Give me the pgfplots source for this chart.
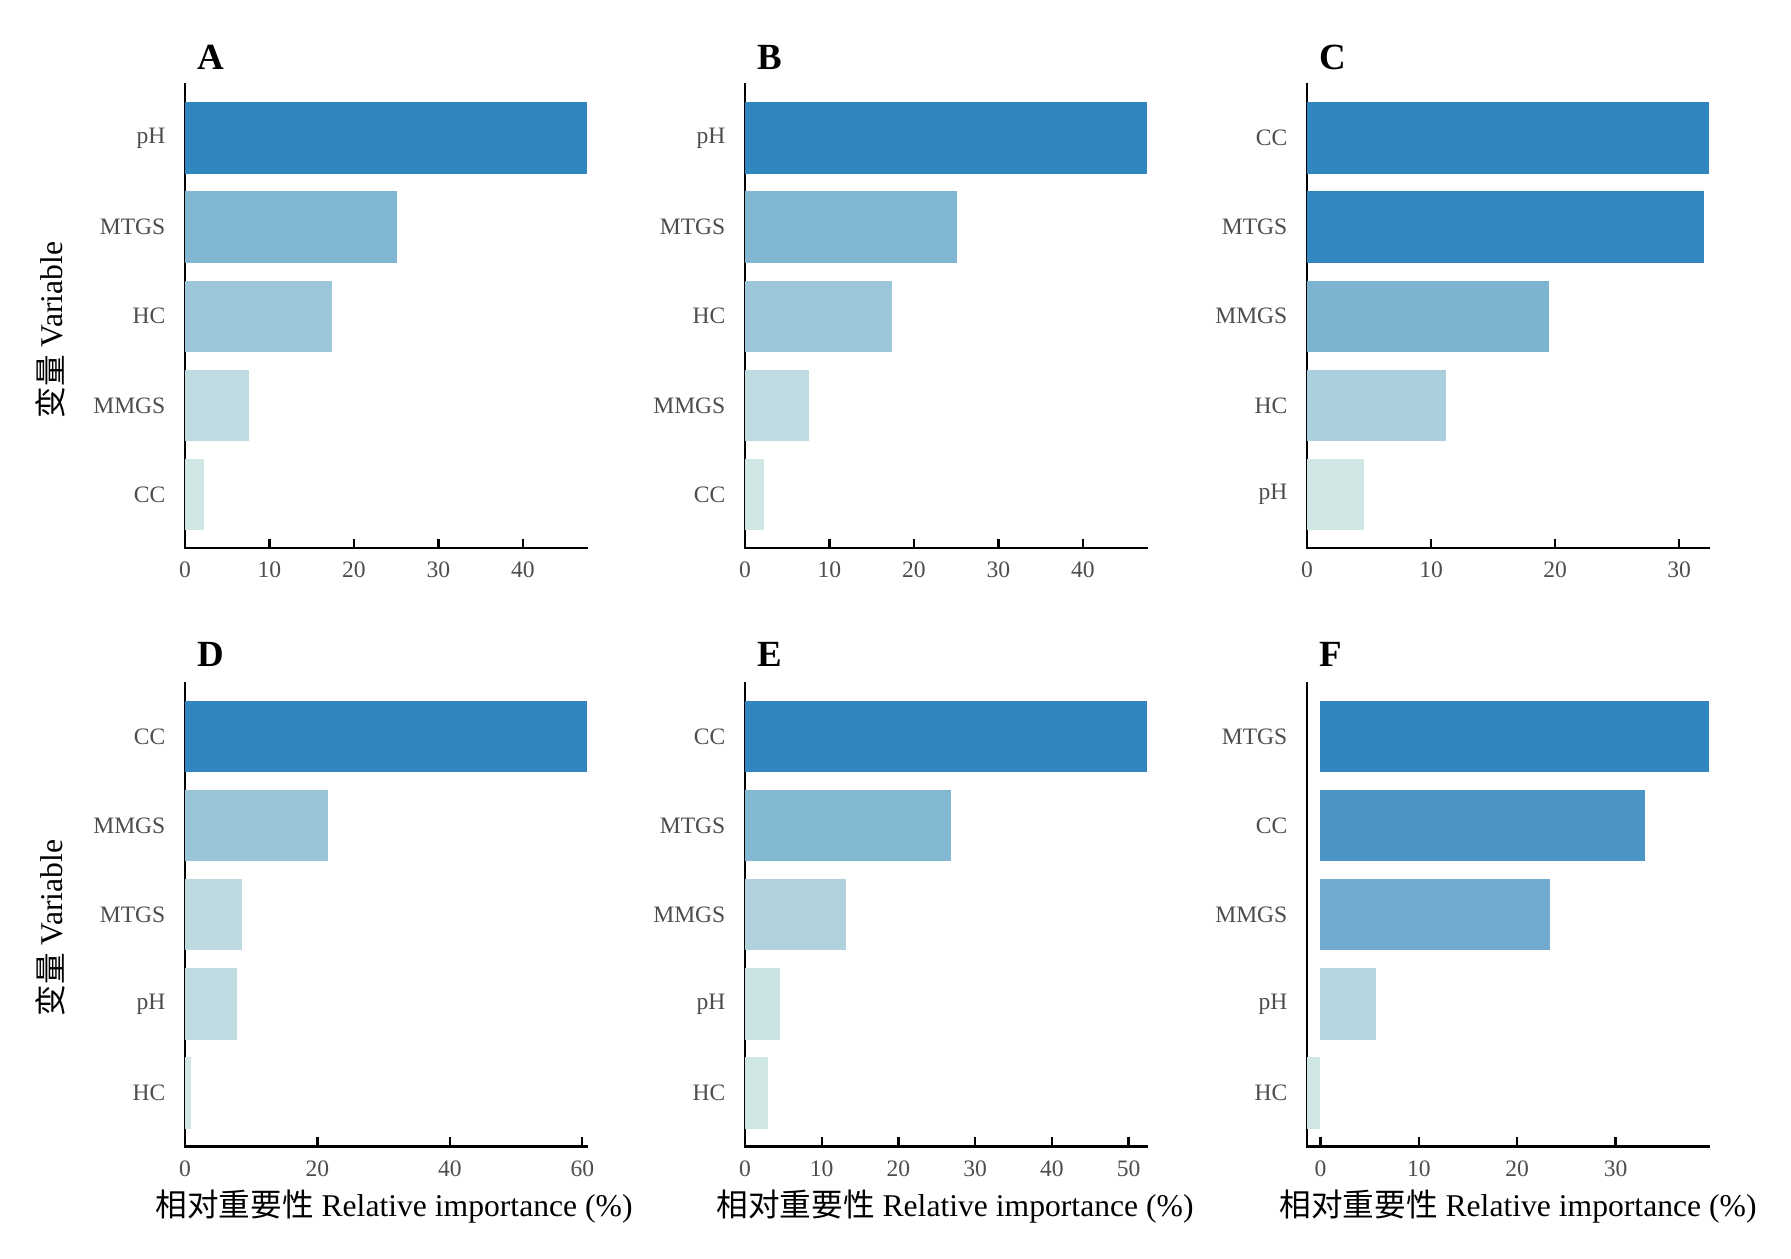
\documentclass[border=0pt]{standalone}
\usepackage{fontspec}
\setmainfont{Liberation Serif}
\newfontfamily\cjk{Noto Sans CJK SC}
\usepackage{pgfplots}
\pgfplotsset{compat=1.18}
\definecolor{tickgray}{HTML}{4D4D4D}
\definecolor{c100}{RGB}{50,134,192}
% A/B
\definecolor{abMTGS}{RGB}{129,182,210}
\definecolor{abHC}{RGB}{155,198,217}
\definecolor{abMMGS}{RGB}{190,219,225}
\definecolor{c000}{RGB}{208,230,229}
% C
\definecolor{cMTGS}{RGB}{52,135,193}
\definecolor{cMMGS}{RGB}{124,179,209}
\definecolor{cHC}{RGB}{171,207,220}
% D
\definecolor{dMMGS}{RGB}{153,197,216}
\definecolor{dMTGS}{RGB}{188,218,224}
\definecolor{dpH}{RGB}{190,219,225}
% E
\definecolor{eMTGS}{RGB}{131,184,211}
\definecolor{eMMGS}{RGB}{175,210,221}
\definecolor{epH}{RGB}{203,227,228}
% F
\definecolor{fCC}{RGB}{75,149,198}
\definecolor{fMMGS}{RGB}{113,172,207}
\definecolor{fpH}{RGB}{181,214,223}

\pgfplotsset{
  panel/.style={
    anchor=north west,
    scale only axis,
    width=40.2mm, height=46.35mm,
    axis x line*=bottom, axis y line*=left,
    axis line style={line width=0.65pt, black, line cap=rect},
    ymin=0.4, ymax=5.6, ytick={1,2,3,4,5},
    y tick style={draw=none},
    tick align=inside,
    major tick length=0.9mm,
    x tick style={black, line width=0.65pt},
    xbar, bar width=0.8, bar shift=0pt,
    every axis plot/.append style={draw=none},
    tick label style={font=\fontsize{6.7}{7}\selectfont, text=tickgray},
    /pgf/number format/assume math mode=true,
    yticklabel style={anchor=east, inner sep=0pt, xshift=-1.0mm},
    xticklabel style={anchor=north, inner sep=0pt, yshift=-1.35mm},
  },
}

\begin{document}
\begin{tikzpicture}
\useasboundingbox (0,0) rectangle (179.1mm,-125.9mm);

% A
\begin{axis}[panel, at={(18.5mm,-8.45mm)}, xmin=0, xmax=47.6,
  xtick={0,10,20,30,40}, yticklabels={CC,MMGS,HC,MTGS,pH}]
\addplot[fill=c100] coordinates {(47.6,5)};
\addplot[fill=abMTGS] coordinates {(25.1,4)};
\addplot[fill=abHC] coordinates {(17.4,3)};
\addplot[fill=abMMGS] coordinates {(7.6,2)};
\addplot[fill=c000] coordinates {(2.3,1)};
\end{axis}

% B
\begin{axis}[panel, at={(74.5mm,-8.45mm)}, xmin=0, xmax=47.6,
  xtick={0,10,20,30,40}, yticklabels={CC,MMGS,HC,MTGS,pH}]
\addplot[fill=c100] coordinates {(47.6,5)};
\addplot[fill=abMTGS] coordinates {(25.1,4)};
\addplot[fill=abHC] coordinates {(17.4,3)};
\addplot[fill=abMMGS] coordinates {(7.6,2)};
\addplot[fill=c000] coordinates {(2.3,1)};
\end{axis}

% C
\begin{axis}[panel, at={(130.7mm,-8.45mm)}, xmin=0, xmax=32.4,
  xtick={0,10,20,30}, yticklabels={pH,HC,MMGS,MTGS,CC}]
\addplot[fill=c100] coordinates {(32.4,5)};
\addplot[fill=cMTGS] coordinates {(32.0,4)};
\addplot[fill=cMMGS] coordinates {(19.5,3)};
\addplot[fill=cHC] coordinates {(11.2,2)};
\addplot[fill=c000] coordinates {(4.6,1)};
\end{axis}

% D
\begin{axis}[panel, at={(18.5mm,-68.3mm)}, xmin=0, xmax=60.7,
  xtick={0,20,40,60}, yticklabels={HC,pH,MTGS,MMGS,CC}]
\addplot[fill=c100] coordinates {(60.7,5)};
\addplot[fill=dMMGS] coordinates {(21.6,4)};
\addplot[fill=dMTGS] coordinates {(8.6,3)};
\addplot[fill=dpH] coordinates {(7.8,2)};
\addplot[fill=c000] coordinates {(0.9,1)};
\end{axis}

% E
\begin{axis}[panel, at={(74.5mm,-68.3mm)}, xmin=0, xmax=52.4,
  xtick={0,10,20,30,40,50}, yticklabels={HC,pH,MMGS,MTGS,CC}]
\addplot[fill=c100] coordinates {(52.4,5)};
\addplot[fill=eMTGS] coordinates {(26.9,4)};
\addplot[fill=eMMGS] coordinates {(13.2,3)};
\addplot[fill=epH] coordinates {(4.6,2)};
\addplot[fill=c000] coordinates {(2.95,1)};
\end{axis}

% F
\begin{axis}[panel, at={(130.7mm,-68.3mm)}, xmin=-1.37, xmax=39.5,
  xtick={0,10,20,30}, yticklabels={HC,pH,MMGS,CC,MTGS}]
\addplot[fill=c100] coordinates {(39.5,5)};
\addplot[fill=fCC] coordinates {(33.0,4)};
\addplot[fill=fMMGS] coordinates {(23.3,3)};
\addplot[fill=fpH] coordinates {(5.6,2)};
\addplot[fill=c000] coordinates {(-1.37,1)};
\end{axis}

% panel letters
\begin{scope}[every node/.style={anchor=base west, inner sep=0pt, font=\fontsize{10.5}{12}\selectfont\bfseries}]
\node at (19.7mm,-7.0mm) {A};
\node at (75.7mm,-7.0mm) {B};
\node at (131.9mm,-7.0mm) {C};
\node at (19.7mm,-66.7mm) {D};
\node at (75.7mm,-66.7mm) {E};
\node at (131.9mm,-66.7mm) {F};
\end{scope}

% y labels
\begin{scope}[every node/.style={anchor=base, inner sep=0pt, rotate=90, font=\fontsize{9}{11}\selectfont}]
\node at (6.2mm,-33.0mm) {{\cjk 变量} Variable};
\node at (6.2mm,-92.8mm) {{\cjk 变量} Variable};
\end{scope}

% x labels
\begin{scope}[every node/.style={anchor=base, inner sep=0pt, font=\fontsize{9}{11}\selectfont}]
\node at (39.4mm,-121.7mm) {{\cjk 相对重要性} Relative importance (\%)};
\node at (95.5mm,-121.7mm) {{\cjk 相对重要性} Relative importance (\%)};
\node at (151.8mm,-121.7mm) {{\cjk 相对重要性} Relative importance (\%)};
\end{scope}
\end{tikzpicture}
\end{document}
